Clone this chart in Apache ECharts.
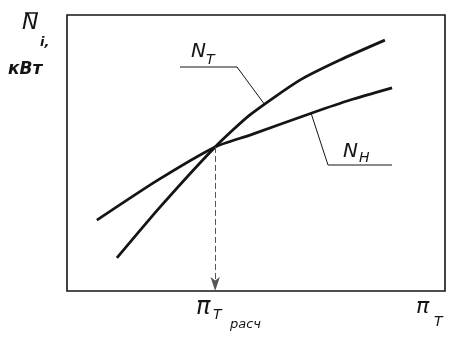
<!DOCTYPE html>
<html><head><meta charset="utf-8">
<script src="https://cdn.jsdelivr.net/npm/echarts@6/dist/echarts.min.js"></script>
<style>html,body{margin:0;padding:0;background:#fff}#c{width:453px;height:340px}</style>
</head><body><div id="c"></div>
<script>
// Data (arbitrary units; the original chart has no numeric scale)
const xT = [1.32, 2.46, 3.92, 4.84, 6.16, 7.22, 8.41];
const yT = [1.20, 3.04, 5.22, 6.38, 7.64, 8.37, 9.09];
const xH = [0.79, 2.38, 3.92, 4.84, 6.48, 7.49, 8.60];
const yH = [2.57, 4.00, 5.22, 5.65, 6.45, 6.92, 7.36];
const xCross = 3.92, yCross = 5.22;

const chart = echarts.init(document.getElementById('c'));
const ink = '#151515';
const fam = 'DejaVu Sans';
const pair = (xs, ys) => xs.map((x, i) => [x, ys[i]]);
const hiddenAxis = {min: 0, max: 10, axisLabel: {show: false}, axisTick: {show: false}, splitLine: {show: false}, axisLine: {show: false}};
chart.setOption({
  animation: false,
  grid: {left: 67, right: 8, top: 15, bottom: 49, show: true, borderColor: ink, borderWidth: 1.6, backgroundColor: '#fff'},
  xAxis: Object.assign({type: 'value'}, hiddenAxis),
  yAxis: Object.assign({type: 'value'}, hiddenAxis),
  series: [
    {type: 'line', data: pair(xT, yT), smooth: 0.2, symbol: 'none', lineStyle: {color: ink, width: 2.8}},
    {type: 'line', data: pair(xH, yH), smooth: 0.2, symbol: 'none', lineStyle: {color: ink, width: 2.8},
     markLine: {silent: true, symbol: ['none', 'arrow'], symbolSize: [7, 14], label: {show: false},
       lineStyle: {color: '#555', width: 1, type: [6, 3]},
       data: [[{coord: [xCross, yCross]}, {coord: [xCross, 0]}]]}}
  ],
  graphic: [
    // Y axis label
    {type: 'text', left: 22, top: 12, style: {text: 'N', font: 'italic 22px ' + fam, fill: ink}},
    {type: 'line', shape: {x1: 25, y1: 13, x2: 38, y2: 13}, style: {stroke: ink, lineWidth: 1.5}},
    {type: 'text', left: 40, top: 36, style: {text: 'i,', font: 'italic bold 13px ' + fam, fill: ink}},
    {type: 'text', left: 8, top: 61, style: {text: 'кВт', font: 'italic bold 17px ' + fam, fill: ink}},
    // N_T label
    {type: 'text', left: 191, top: 42, style: {text: 'N', font: 'italic 20px ' + fam, fill: ink}},
    {type: 'text', left: 206, top: 53, style: {text: 'T', font: 'italic 14px ' + fam, fill: ink}},
    {type: 'polyline', shape: {points: [[180, 67], [237, 67], [265, 105]]}, style: {stroke: ink, lineWidth: 1, fill: null}},
    // N_H label
    {type: 'text', left: 343, top: 142, style: {text: 'N', font: 'italic 20px ' + fam, fill: ink}},
    {type: 'text', left: 359, top: 151, style: {text: 'H', font: 'italic 14px ' + fam, fill: ink}},
    {type: 'polyline', shape: {points: [[311, 113], [328, 165], [392, 165]]}, style: {stroke: ink, lineWidth: 1, fill: null}},
    // X labels
    {type: 'text', left: 196, top: 296, style: {text: 'π', font: 'italic 24px ' + fam, fill: ink}},
    {type: 'text', left: 213, top: 308, style: {text: 'T', font: 'italic 14px ' + fam, fill: ink}},
    {type: 'text', left: 230, top: 318, style: {text: 'расч', font: 'italic 13px ' + fam, fill: ink}},
    {type: 'text', left: 416, top: 296, style: {text: 'π', font: 'italic 22px ' + fam, fill: ink}},
    {type: 'text', left: 434, top: 315, style: {text: 'T', font: 'italic 14px ' + fam, fill: ink}}
  ]
});
</script></body></html>
